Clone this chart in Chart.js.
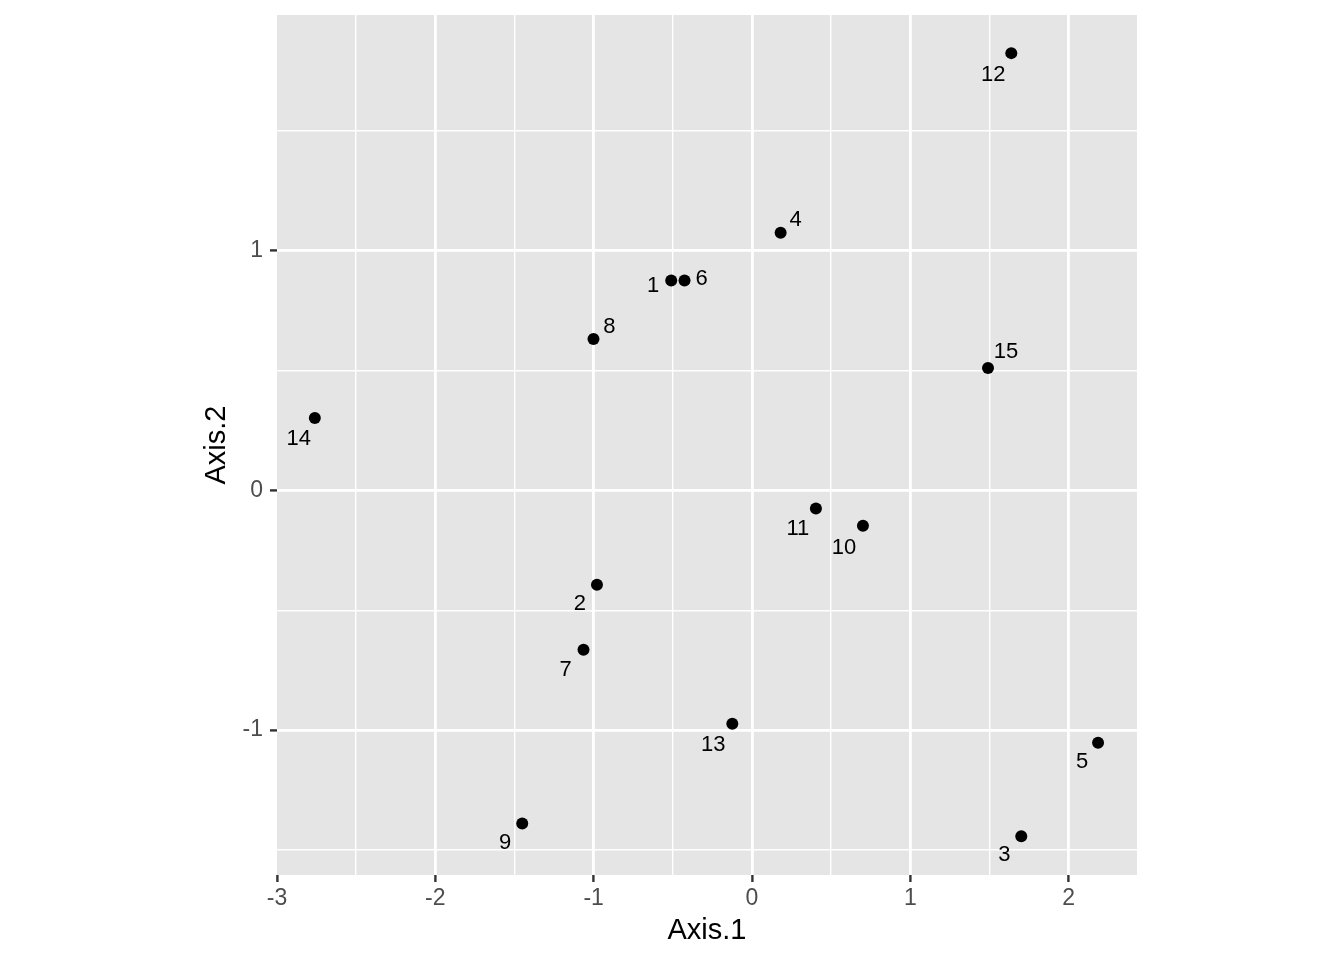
<!DOCTYPE html>
<html>
<head>
<meta charset="utf-8">
<title>Axis.1 vs Axis.2</title>
<script src="https://cdn.jsdelivr.net/npm/chart.js@4.4.1/dist/chart.umd.min.js"></script>
<style>
  html, body { margin: 0; padding: 0; background: #ffffff; }
  canvas { display: block; }
</style>
</head>
<body>
<canvas id="myChart" width="1344" height="960" style="width:1344px;height:960px"></canvas>
<script>
// site ids and their ordination scores
const siteIds = ["1", "2", "3", "4", "5", "6", "7", "8", "9", "10", "11", "12", "13", "14", "15"];
const axis1 = [-0.510, -0.979, 1.701, 0.181, 2.186, -0.426, -1.064, -1.001, -1.451, 0.701, 0.404, 1.638, -0.124, -2.761, 1.491];
const axis2 = [0.875, -0.394, -1.442, 1.074, -1.053, 0.875, -0.665, 0.631, -1.389, -0.148, -0.076, 1.823, -0.973, 0.302, 0.510];

// tick values (majors get labels, halves are minor grid)
const xTicks = [-3, -2.5, -2, -1.5, -1, -0.5, 0, 0.5, 1, 1.5, 2];
const yTicks = [-1.5, -1, -0.5, 0, 0.5, 1, 1.5];

// where each text label sits relative to its point (px), like ggrepel did it
const labelNudge = [
  [-18, 4], [-17, 17], [-17, 17], [15, -15], [-16, 17],
  [17, -3], [-18, 18], [16, -14], [-17, 18], [-19, 20],
  [-18, 19], [-18, 20], [-19, 19], [-16, 19], [18, -18]
];

const FONT = "'Liberation Sans', Arial, Helvetica, sans-serif";

const panelBg = {
  id: "panelBg",
  beforeDraw(chart) {
    const { ctx, chartArea } = chart;
    ctx.save();
    ctx.fillStyle = "#E5E5E5";
    ctx.fillRect(chartArea.left, chartArea.top, chartArea.right - chartArea.left, chartArea.bottom - chartArea.top);
    ctx.restore();
  }
};

const pointLabels = {
  id: "pointLabels",
  afterDatasetsDraw(chart) {
    const ctx = chart.ctx;
    const meta = chart.getDatasetMeta(0);
    ctx.save();
    ctx.font = "22px " + FONT;
    ctx.fillStyle = "#000000";
    ctx.textAlign = "center";
    ctx.textBaseline = "alphabetic";
    meta.data.forEach((pt, i) => {
      const [dx, dy] = labelNudge[i];
      ctx.fillText(siteIds[i], pt.x + dx, pt.y + dy + 22 * 0.358);
    });
    ctx.restore();
  }
};

function isMajor(v) {
  return Math.abs(v - Math.round(v)) < 1e-9;
}

function gridOpts(edgeValue) {
  return {
    color: (c) => (c.tick && c.tick.value === edgeValue ? "rgba(0,0,0,0)" : "#FFFFFF"),
    lineWidth: (c) => (c.tick && isMajor(c.tick.value) ? 2.8 : 1.4),
    tickColor: (c) => (c.tick && isMajor(c.tick.value) ? "#333333" : "rgba(0,0,0,0)"),
    tickWidth: 2.4,
    tickLength: 7,
    drawTicks: true
  };
}

const points = axis1.map((x, i) => ({ x: x, y: axis2[i] }));

new Chart(document.getElementById("myChart"), {
  type: "scatter",
  data: {
    datasets: [{
      data: points,
      backgroundColor: "#000000",
      borderWidth: 0,
      pointRadius: 6,
      pointHoverRadius: 6
    }]
  },
  options: {
    responsive: false,
    animation: false,
    devicePixelRatio: 1,
    layout: { padding: { top: 15, right: 207, left: 0, bottom: 0 } },
    plugins: {
      legend: { display: false },
      tooltip: { enabled: false }
    },
    scales: {
      x: {
        type: "linear",
        min: -3,
        max: 2.432,
        afterBuildTicks: (scale) => { scale.ticks = xTicks.map((v) => ({ value: v })); },
        afterFit: (scale) => {
          scale.height = 85;
          scale.paddingLeft = 0;
          scale.paddingRight = 0;
        },
        border: { display: false },
        grid: gridOpts(-3),
        ticks: {
          autoSkip: false,
          maxRotation: 0,
          padding: 3,
          color: "#4D4D4D",
          font: { family: FONT, size: 23 },
          callback: (v) => (isMajor(v) ? String(v) : "")
        },
        title: {
          display: true,
          text: "Axis.1",
          color: "#000000",
          font: { family: FONT, size: 29 },
          padding: { top: 0, bottom: 12 }
        }
      },
      y: {
        type: "linear",
        min: -1.604,
        max: 1.982,
        afterBuildTicks: (scale) => { scale.ticks = yTicks.map((v) => ({ value: v })); },
        afterFit: (scale) => {
          scale.width = 277;
          scale.paddingTop = 0;
          scale.paddingBottom = 0;
        },
        border: { display: false },
        grid: gridOpts(null),
        ticks: {
          autoSkip: false,
          padding: 7,
          color: "#4D4D4D",
          font: { family: FONT, size: 23 },
          callback: (v) => (isMajor(v) ? String(v) : "")
        },
        title: {
          display: true,
          text: "Axis.2",
          color: "#000000",
          font: { family: FONT, size: 29 },
          padding: { top: 200, bottom: 0 }
        }
      }
    }
  },
  plugins: [panelBg, pointLabels]
});
</script>
</body>
</html>
